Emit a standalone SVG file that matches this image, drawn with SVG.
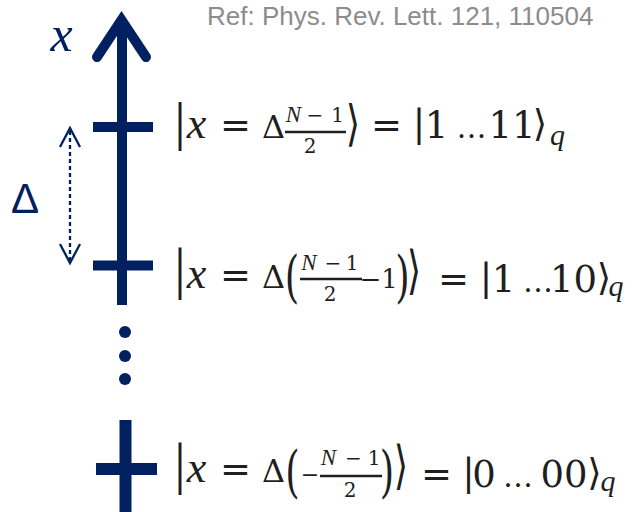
<svg xmlns="http://www.w3.org/2000/svg" width="639" height="512" viewBox="0 0 639 512">
<style>
.ax{fill:#002060}
.m{font-family:"DejaVu Serif","Liberation Serif",serif;fill:#1f1f1f;text-anchor:middle;font-size:37px}
.i{font-family:"Liberation Serif","DejaVu Serif",serif;font-style:italic;font-size:44px}
.s{font-size:20px}
.si{font-size:23px}
.d{font-size:32px}
.e{font-size:30px}
.q{font-family:"Liberation Serif","DejaVu Serif",serif;font-size:30px;font-style:italic}
.fb{stroke:#1f1f1f;stroke-width:2.5}
.ref{font-family:"Liberation Sans",Arial,sans-serif;font-size:26px;fill:#8c8c8c}
.lab{fill:#002060}
</style>
<rect width="639" height="512" fill="#ffffff"/>
<text class="ref" x="207" y="25">Ref: Phys. Rev. Lett. 121, 110504</text>

<g id="axis">
  <polyline points="97,57 121.5,20 146,57" fill="none" stroke="#002060" stroke-width="10" stroke-linejoin="miter" stroke-linecap="round"/>
  <line x1="122" y1="20" x2="122" y2="305" stroke="#002060" stroke-width="10"/>
  <text class="m i lab" x="61.5" y="51" style="font-size:50px">x</text>
</g>
<g id="tick-top"><rect class="ax" x="93" y="122" width="60" height="10"/></g>
<g id="tick-mid"><rect class="ax" x="93" y="260.5" width="60" height="10"/></g>
<g id="ellipsis">
  <circle class="ax" cx="125" cy="332" r="6"/>
  <circle class="ax" cx="125" cy="356" r="6"/>
  <circle class="ax" cx="125" cy="379" r="6"/>
</g>
<g id="tick-bottom">
  <rect class="ax" x="119.5" y="420" width="12" height="92"/>
  <rect class="ax" x="96" y="463" width="61" height="12"/>
</g>

<g id="connectors">
  <line x1="70" y1="131" x2="70" y2="260" stroke="#002060" stroke-width="2.3" stroke-dasharray="4 3"/>
  <polyline points="60,147 70,128 80,147" fill="none" stroke="#002060" stroke-width="2.3"/>
  <polyline points="60,244 70,263 80,244" fill="none" stroke="#002060" stroke-width="2.3"/>
</g>
<g id="delta-label">
  <text x="25" y="213" style="font-family:'Liberation Sans',Arial,sans-serif;font-size:42px;fill:#002060;text-anchor:middle">Δ</text>
</g>

<g id="f1" class="m">
  <text transform="translate(180,140.4) scale(1,1.33)">|</text>
  <text class="i" x="196.5" y="138">x</text>
  <text x="235.5" y="138">=</text>
  <text class="d" x="273.5" y="138">Δ</text>
  <text class="i si" x="293.5" y="122">N</text>
  <text class="s" x="315" y="122">−</text>
  <text class="s" x="337.5" y="122">1</text>
  <line class="fb" x1="285" y1="132" x2="346" y2="132"/>
  <text class="s" x="310" y="153">2</text>
  <text transform="translate(353,140.4) scale(1,1.33)">⟩</text>
  <text x="386.5" y="138">=</text>
  <text transform="translate(419,136.3)">|</text>
  <text x="436.5" y="138">1</text>
  <text class="e" x="471.5" y="138">…</text>
  <text x="512" y="138">11</text>
  <text transform="translate(540,136.3)">⟩</text>
  <text class="q" x="557.5" y="145">q</text>
</g>

<g id="f2" class="m">
  <text transform="translate(180,287.7) scale(1,1.41)">|</text>
  <text class="i" x="196.5" y="288">x</text>
  <text x="235.5" y="288">=</text>
  <text class="d" x="273.5" y="288">Δ</text>
  <text transform="translate(292,295.7) scale(1,1.52)">(</text>
  <text class="i si" x="309" y="270">N</text>
  <text class="s" x="333" y="270">−</text>
  <text class="s" x="352" y="270">1</text>
  <line class="fb" x1="300" y1="279" x2="362" y2="279"/>
  <text class="s" x="330" y="301">2</text>
  <text x="370.5" y="288" style="font-size:26px">−</text>
  <text x="389.5" y="288" style="font-size:26px">1</text>
  <text transform="translate(402.5,295.7) scale(1,1.52)">)</text>
  <text transform="translate(414,287.7) scale(1,1.41)">⟩</text>
  <text x="453.5" y="292">=</text>
  <text transform="translate(486,290.3)">|</text>
  <text x="503.5" y="292">1</text>
  <text class="e" x="538" y="292">…</text>
  <text x="573.5" y="292">10</text>
  <text transform="translate(604,290.3)">⟩</text>
  <text class="q" x="616" y="296">q</text>
</g>

<g id="f3" class="m">
  <text transform="translate(180,482.7) scale(1,1.41)">|</text>
  <text class="i" x="196.5" y="482">x</text>
  <text x="235.5" y="482">=</text>
  <text class="d" x="273.5" y="482">Δ</text>
  <text transform="translate(292.5,490.7) scale(1,1.52)">(</text>
  <text x="310" y="482" style="font-size:22px">−</text>
  <text class="i si" x="328.5" y="465">N</text>
  <text class="s" x="353.5" y="465">−</text>
  <text class="s" x="374" y="465">1</text>
  <line class="fb" x1="320" y1="476" x2="382" y2="476"/>
  <text class="s" x="350" y="497">2</text>
  <text transform="translate(387,490.7) scale(1,1.52)">)</text>
  <text transform="translate(401,482.7) scale(1,1.41)">⟩</text>
  <text x="436.5" y="487">=</text>
  <text transform="translate(468.5,485.3)">|</text>
  <text x="484" y="487">0</text>
  <text class="e" x="518" y="487">…</text>
  <text x="564" y="487">00</text>
  <text transform="translate(594.5,485.3)">⟩</text>
  <text class="q" x="608" y="491">q</text>
</g>
</svg>
